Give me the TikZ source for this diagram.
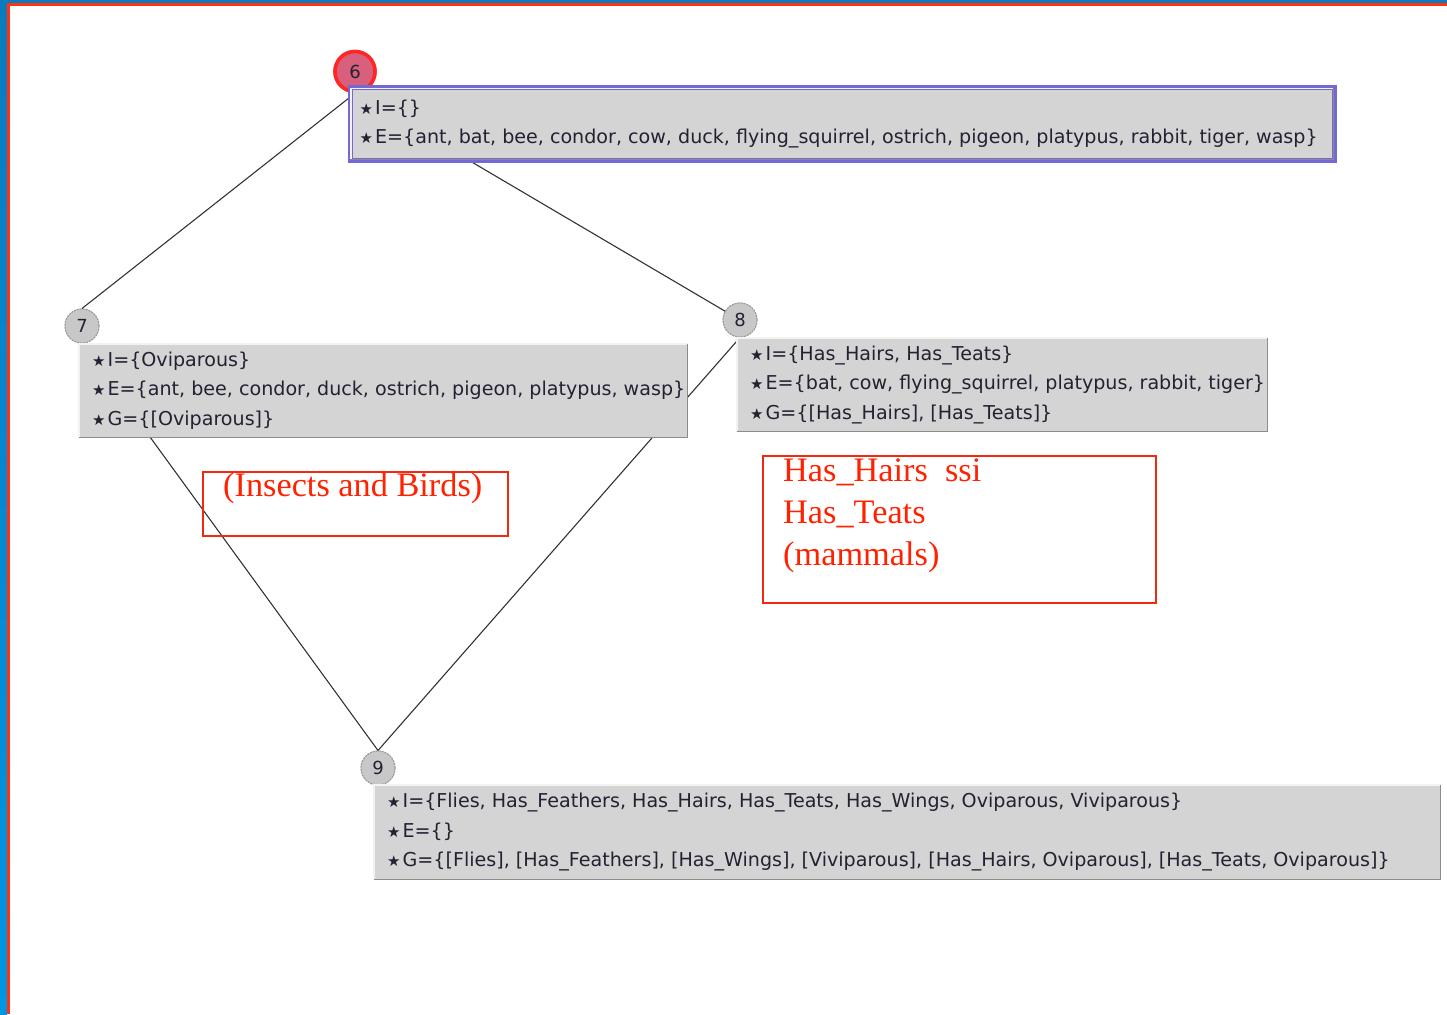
\documentclass[tikz,border=0pt]{standalone}
\usepackage{fontspec}
\setmainfont{Liberation Serif}
\newfontfamily\uifont{DejaVu Sans}
\newfontfamily\glyphfont{DejaVu Sans}

\definecolor{framebluetop}{HTML}{0A7BBE}
\definecolor{frameblue}{HTML}{0096E2}
\definecolor{framered}{HTML}{FF3311}
\definecolor{panelgrey}{HTML}{D4D4D4}
\definecolor{panelshade}{HTML}{8C8C8C}
\definecolor{panellight}{HTML}{F2F2F2}
\definecolor{selblue}{HTML}{7468D2}
\definecolor{selfill}{HTML}{D9607C}
\definecolor{selring}{HTML}{FF2626}
\definecolor{nodegrey}{HTML}{C8C8C8}
\definecolor{nodering}{HTML}{9A9A9A}
\definecolor{ink}{HTML}{222233}
\definecolor{notered}{HTML}{FF2200}
\definecolor{noteframe}{HTML}{EE2A14}

% small star used as the item marker in the concept panels
\newcommand\bul{{\glyphfont\fontsize{15}{15}\selectfont ★}\hspace{2pt}}

% light upper/left edge and dark lower/right edge of a panel
\newcommand\panelbevel[2]{%
  \draw[panellight, line width=1.5pt]
    ([shift={(#2pt,#2pt)}]#1.south west) |- ([shift={(-#2pt,-#2pt)}]#1.north east);
  \draw[panelshade, line width=1.5pt]
    ([shift={(#2pt,#2pt)}]#1.south west) -| ([shift={(-#2pt,-#2pt)}]#1.north east);
}

\tikzset{
  lattice/.style={circle, fill=nodegrey, draw=nodering, dash pattern=on 2pt off 1pt,
    line width=1pt, minimum size=34pt, inner sep=0pt,
    font=\uifont\fontsize{18}{18}\selectfont, text=ink},
  picked/.style={circle, fill=selfill, draw=selring, line width=3.5pt,
    minimum size=40pt, inner sep=0pt,
    font=\uifont\fontsize{18}{18}\selectfont, text=ink},
  panel/.style={rectangle, fill=panelgrey, anchor=north west, inner sep=0pt},
  paneltext/.style={anchor=west, inner sep=0pt, align=left,
    font=\uifont\fontsize{19.1}{29.5}\selectfont, text=ink},
  link/.style={draw=black!80, line width=1.1pt},
  note/.style={draw=noteframe, line width=2pt, anchor=north west, inner sep=0pt},
  notetext/.style={text=notered, font=\fontsize{34.3}{42}\selectfont,
    inner sep=0pt, anchor=base west, align=left}
}

\begin{document}
\begin{tikzpicture}[x=1pt, y=-1pt]
\useasboundingbox (0,0) rectangle (1447,1014);
\fill[white] (0,0) rectangle (1447,1014);

% window frame
\shade[top color=framebluetop, bottom color=frameblue] (0,0) rectangle (7,1014);
\fill[framebluetop] (0,0) rectangle (1447,3.5);
\fill[framered] (7,3.5) rectangle (1447,6.5);
\fill[framered] (7,3.5) rectangle (10,1014);

% lattice vertices
\node[picked]  (c6) at (355,71.5) {6};
\node[lattice] (c7) at (82,326) {7};
\node[lattice] (c8) at (740,320) {8};
\node[lattice] (c9) at (378,768) {9};

% lattice edges
\draw[link] (c6.south) -- (c7.north);
\draw[link] (c6.south) -- (c8.center);
\draw[link] (c7.south) -- (c9.north);
\draw[link] (c8.south) -- (c9.north);

% redraw vertices above the edges
\node[picked]  at (c6) {6};
\node[lattice] at (c7) {7};
\node[lattice] at (c8) {8};
\node[lattice] at (c9) {9};

% concept 6 (selected)
\node[panel, draw=selblue, line width=5pt, minimum width=984pt, minimum height=72pt]
  (b6) at (347.5,85.5) {};
\panelbevel{b6}{3.25}
\node[paneltext] (t6) at ([xshift=12pt]b6.west)
  {\bul I=\{\}\\
   \bul E=\{ant, bat, bee, condor, cow, duck, flying\_squirrel, ostrich, pigeon, platypus, rabbit, tiger, wasp\}};

% concept 7
\node[panel, minimum width=610pt, minimum height=95pt] (b7) at (78,343) {};
\panelbevel{b7}{0.75}
\node[paneltext] (t7) at ([xshift=14pt]b7.west)
  {\bul I=\{Oviparous\}\\
   \bul E=\{ant, bee, condor, duck, ostrich, pigeon, platypus, wasp\}\\
   \bul G=\{[Oviparous]\}};

% concept 8
\node[panel, minimum width=532pt, minimum height=95pt] (b8) at (736,337) {};
\panelbevel{b8}{0.75}
\node[paneltext] (t8) at ([xshift=14pt]b8.west)
  {\bul I=\{Has\_Hairs, Has\_Teats\}\\
   \bul E=\{bat, cow, flying\_squirrel, platypus, rabbit, tiger\}\\
   \bul G=\{[Has\_Hairs], [Has\_Teats]\}};

% concept 9
\node[panel, minimum width=1068pt, minimum height=96pt] (b9) at (373,784) {};
\panelbevel{b9}{0.75}
\node[paneltext] (t9) at ([xshift=14pt]b9.west)
  {\bul I=\{Flies, Has\_Feathers, Has\_Hairs, Has\_Teats, Has\_Wings, Oviparous, Viviparous\}\\
   \bul E=\{\}\\
   \bul G=\{[Flies], [Has\_Feathers], [Has\_Wings], [Viviparous], [Has\_Hairs, Oviparous], [Has\_Teats, Oviparous]\}};

% annotations
\node[note, minimum width=305pt, minimum height=64pt] (na) at (202,471) {};
\node[notetext] (nat) at (223,496) {(Insects and Birds)};

\node[note, minimum width=393pt, minimum height=147pt] (nb) at (762,455) {};
\node[notetext] (nbt) at (783,565) {Has\_Hairs\ \ ssi\\Has\_Teats\\(mammals)};
\end{tikzpicture}
\end{document}
